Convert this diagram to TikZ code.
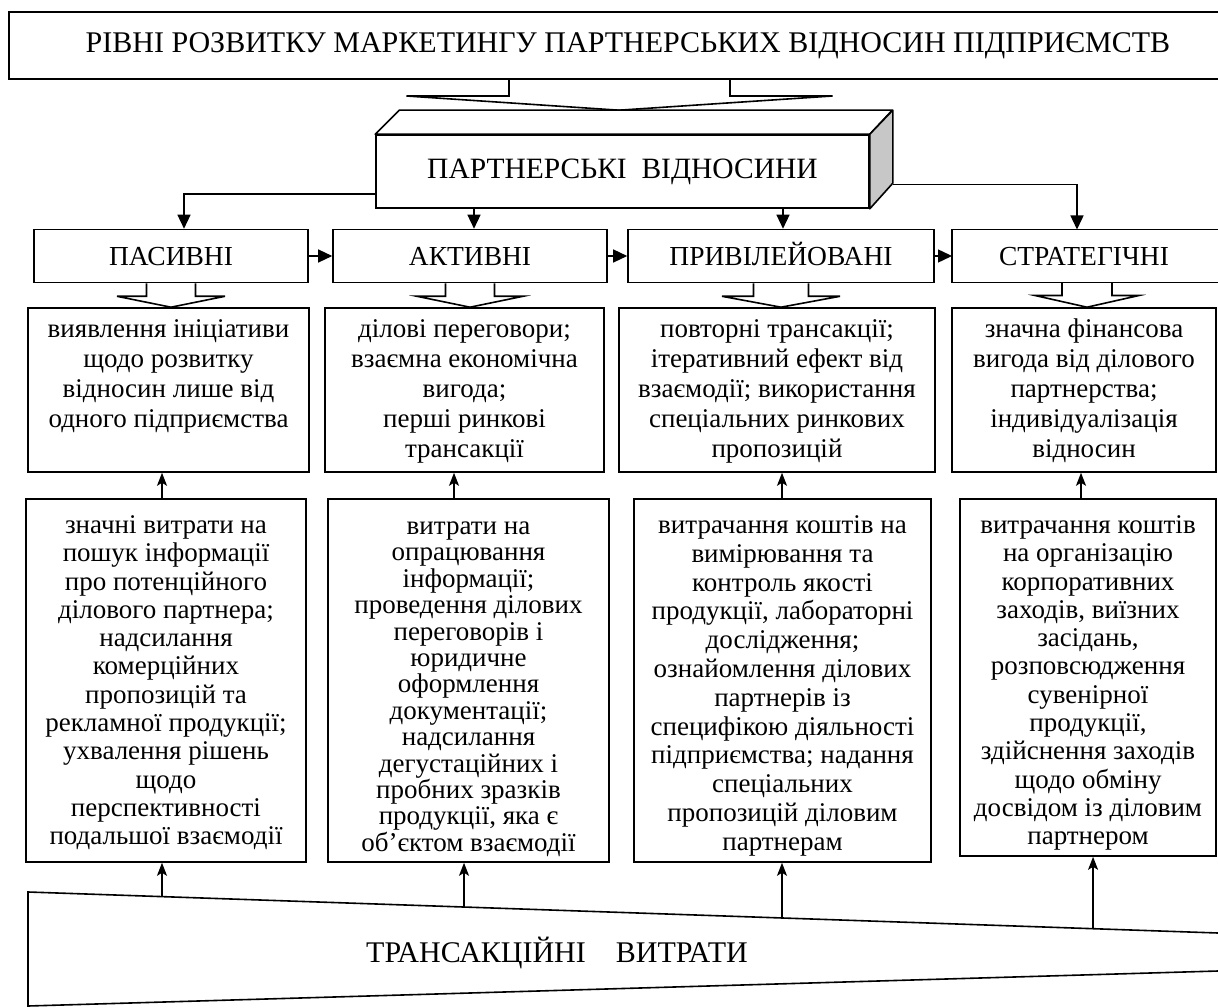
\documentclass[tikz,border=0pt]{standalone}
\usepackage{fontspec}
\setmainfont{Liberation Serif}
\usetikzlibrary{arrows.meta,calc}
\pgfdeclarelayer{bg}
\pgfsetlayers{bg,main}
\newcommand\blockarr[5]{%
  \filldraw[barrow] ($(#1)+(-#2,0)$) -- ($(#1)+(-#2,#3)$) -- ($(#1)+(-#4,#3)$) -- (#5) -- ($(#1)+(#4,#3)$) -- ($(#1)+(#2,#3)$) -- ($(#1)+(#2,0)$);}
\newcommand\firststrut{\rule{0pt}{20pt}}
\begin{document}
\begin{tikzpicture}[x=1pt,y=-1pt,
  box/.style={draw, line width=1.6pt, fill=white, inner sep=0pt},
  lab/.style={font=\fontsize{27.5}{30}\selectfont, inner sep=0pt, text height=19pt, text depth=0pt},
  big/.style={font=\fontsize{30}{32}\selectfont, inner sep=0pt},
  txt/.style={align=center, inner sep=0pt, font=\fontsize{27}{30}\selectfont},
  tri/.style={line width=1.4pt, -{Triangle[length=14pt,width=13pt]}},
  up/.style={line width=1.4pt, -{Stealth[length=13pt,width=10pt,inset=3pt]}},
  barrow/.style={draw, line width=1.6pt, fill=white, line join=miter},
  frame/.style={line width=1.6pt}]
\useasboundingbox (0,0) rectangle (1218,1008);
\begin{pgfonlayer}{bg}
\fill[white] (0,0) rectangle (1218,1008);
\end{pgfonlayer}

% ---------- title ----------
\coordinate (tnw) at (9,12);
\coordinate (tsw) at (9,79);
\draw[frame] (1218,12) -- (tnw) -- (tsw) -- (1218,79);
\node[big] (title) at (628,46) {РІВНІ РОЗВИТКУ МАРКЕТИНГУ ПАРТНЕРСЬКИХ ВІДНОСИН ПІДПРИЄМСТВ};
\coordinate (tb) at (619.5,79);

% ---------- 3D box ----------
\node[box, minimum width=493pt, minimum height=73pt] (pf) at (622.5,171.5) {};
\filldraw[fill=white, line width=1.6pt, line join=round] (pf.north west) -- ++(24,-24) -- ++(493,0) -- (pf.north east) -- cycle;
\filldraw[fill=black!22, line width=1.6pt, line join=round] (pf.north east) -- ++(23,-24) -- ++(0,73) -- (pf.south east) -- cycle;
\node[font=\fontsize{29.5}{32}\selectfont, inner sep=0pt] (pft) at (pf) {ПАРТНЕРСЬКІ\ \ ВІДНОСИНИ};
\coordinate (ptop) at ($(pf.north)+(-3.5,-24)$);
\coordinate (pfr) at ($(pf.south east)+(23,-24)$);
\begin{pgfonlayer}{bg}
\blockarr{tb}{110.5}{17}{213}{ptop}
\end{pgfonlayer}

% ---------- level boxes ----------
\node[box, lab, minimum width=274pt, minimum height=53pt] (p1) at (171,256) {ПАСИВНІ};
\node[box, lab, minimum width=274pt, minimum height=53pt] (p2) at (470,256) {АКТИВНІ};
\node[box, lab, minimum width=306pt, minimum height=53pt] (p3) at (781,256) {ПРИВІЛЕЙОВАНІ};
\coordinate (p4nw) at (952,229.5);
\coordinate (p4sw) at (952,282.5);
\draw[frame] (1218,229.5) -- (p4nw) -- (p4sw) -- (1218,282.5);
\node[lab] (p4) at (1084,256) {СТРАТЕГІЧНІ};
\coordinate (p4w) at (952,256);
\coordinate (p4s) at (1087,282.5);
\coordinate (p4n) at (1077,229.5);

% connectors from partnership box
\draw[tri] (pf.west |- 0,194) -| (p1.north -| 184,0);
\draw[tri] (pf.south -| 474,0) -- (p2.north -| 474,0);
\draw[tri] (pf.south -| 783,0) -- (p3.north -| 783,0);
\draw[tri] (pfr) -| (p4n);

% between level boxes
\draw[tri] (p1.east) -- (p2.west);
\draw[tri] (p2.east) -- (p3.west);
\draw[tri] (p3.east) -- (p4w);

% ---------- description boxes ----------
\node[box, minimum width=281pt, minimum height=164pt] (d1) at (168.5,390) {};
\node[box, minimum width=279pt, minimum height=164pt] (d2) at (464.5,390) {};
\node[box, minimum width=316pt, minimum height=164pt] (d3) at (777,390) {};
\node[box, minimum width=264pt, minimum height=164pt] (d4) at (1084,390) {};

\node[txt, anchor=north] (d1t) at ([yshift=-10pt]d1.north) {\firststrut виявлення ініціативи\\щодо розвитку\\відносин лише від\\одного підприємства};
\node[txt, anchor=north] (d2t) at ([yshift=-10pt]d2.north) {\firststrut ділові переговори;\\взаємна економічна\\вигода;\\перші ринкові\\трансакції};
\node[txt, anchor=north] (d3t) at ([yshift=-10pt]d3.north) {\firststrut повторні трансакції;\\ітеративний ефект від\\взаємодії; використання\\спеціальних ринкових\\пропозицій};
\node[txt, anchor=north] (d4t) at ([yshift=-10pt]d4.north) {\firststrut значна фінансова\\вигода від ділового\\партнерства;\\індивідуалізація\\відносин};

\begin{pgfonlayer}{bg}
\blockarr{p1.south}{24.5}{13}{54}{$(p1.south |- d1.north)$}
\blockarr{p2.south}{24.5}{13}{53}{$(p2.south |- d2.north)$}
\blockarr{p3.south}{27.5}{13}{59}{$(p3.south |- d3.north)$}
\blockarr{p4s}{25}{13}{52}{$(p4s |- d4.north)$}
\end{pgfonlayer}

% ---------- lower boxes ----------
\node[box, minimum width=280pt, minimum height=363pt] (l1) at (166,680.5) {};
\node[box, minimum width=281pt, minimum height=363pt] (l2) at (468.5,680.5) {};
\node[box, minimum width=297pt, minimum height=363pt] (l3) at (782.5,680.5) {};
\node[box, minimum width=256pt, minimum height=357pt] (l4) at (1088,677.5) {};

\node[align=center, inner sep=0pt, font=\fontsize{27}{28.3}\selectfont, anchor=north] (l1t) at ([yshift=-15pt]l1.north) {\firststrut значні витрати на\\пошук інформації\\про потенційного\\ділового партнера;\\надсилання\\комерційних\\пропозицій та\\рекламної продукції;\\ухвалення рішень\\щодо\\перспективності\\подальшої взаємодії};
\node[align=center, inner sep=0pt, font=\fontsize{27}{26.4}\selectfont, anchor=north] (l2t) at ([yshift=-16pt]l2.north) {\firststrut витрати на\\опрацювання\\інформації;\\проведення ділових\\переговорів і\\юридичне\\оформлення\\документації;\\надсилання\\дегустаційних і\\пробних зразків\\продукції, яка є\\об’єктом взаємодії};
\node[align=center, inner sep=0pt, font=\fontsize{27}{28.8}\selectfont, anchor=north] (l3t) at ([yshift=-15pt]l3.north) {\firststrut витрачання коштів на\\вимірювання та\\контроль якості\\продукції, лабораторні\\дослідження;\\ознайомлення ділових\\партнерів із\\специфікою діяльності\\підприємства; надання\\спеціальних\\пропозицій діловим\\партнерам};
\node[align=center, inner sep=0pt, font=\fontsize{27}{28.3}\selectfont, anchor=north] (l4t) at ([yshift=-15pt]l4.north) {\firststrut витрачання коштів\\на організацію\\корпоративних\\заходів, виїзних\\засідань,\\розповсюдження\\сувенірної\\продукції,\\здійснення заходів\\щодо обміну\\досвідом із діловим\\партнером};

% arrows lower -> upper
\coordinate (u1) at (162,0);
\coordinate (u2) at (454,0);
\coordinate (u3) at (782,0);
\coordinate (u4) at (1081,0);
\draw[up] (u1 |- l1.north) -- (u1 |- d1.south);
\draw[up] (u2 |- l2.north) -- (u2 |- d2.south);
\draw[up] (u3 |- l3.north) -- (u3 |- d3.south);
\draw[up] (u4 |- l4.north) -- (u4 |- d4.south);

% ---------- transaction costs ----------
\coordinate (tl) at (28,892);
\coordinate (tr) at (1218,933);
\coordinate (bl) at (28,1006);
\coordinate (br) at (1218,971);
\draw[frame] (tr) -- (tl) -- (bl) -- (br);
\node[big] (trans) at (557,953) {ТРАНСАКЦІЙНІ\hspace{30pt}ВИТРАТИ};
\coordinate (a1) at ($(tl)!0.1126!(tr)$);
\coordinate (a2) at ($(tl)!0.3664!(tr)$);
\coordinate (a3) at ($(tl)!0.6336!(tr)$);
\coordinate (a4) at ($(tl)!0.8950!(tr)$);
\draw[up] (a1) -- (a1 |- l1.south);
\draw[up] (a2) -- (a2 |- l2.south);
\draw[up] (a3) -- (a3 |- l3.south);
\draw[up] (a4) -- (a4 |- l4.south);
\end{tikzpicture}
\end{document}
